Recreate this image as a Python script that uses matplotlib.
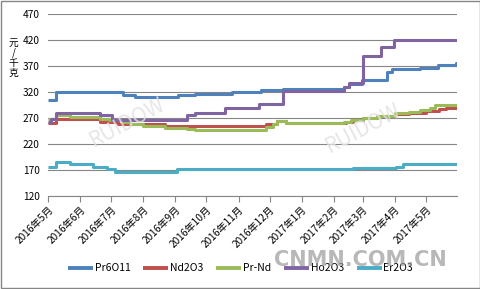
import matplotlib
matplotlib.use("Agg")
import matplotlib.pyplot as plt
import pandas as pd
import numpy as np

plt.rcParams['font.family'] = ['Noto Sans CJK SC', 'DejaVu Sans']

# change points (date, value) for each stepwise price series
pr6o11_dates = ["2016-05-01", "2016-05-09", "2016-07-12", "2016-07-24", "2016-09-04", "2016-09-20",
                "2016-10-26", "2016-11-23", "2016-12-14", "2017-02-11", "2017-02-16", "2017-02-28",
                "2017-03-24", "2017-03-29", "2017-04-25", "2017-05-13", "2017-05-30", "2017-05-31"]
pr6o11_vals = [305, 320, 315, 310, 314, 317, 320, 323, 325, 330, 335, 344, 359, 364, 367, 372, 375, 375]

nd2o3_dates = ["2016-05-01", "2016-05-09", "2016-06-20", "2016-07-08", "2016-08-22", "2016-11-28",
               "2016-12-08", "2016-12-17", "2017-02-13", "2017-02-20", "2017-03-01", "2017-03-15",
               "2017-04-01", "2017-04-15", "2017-05-01", "2017-05-14", "2017-05-20", "2017-05-31"]
nd2o3_vals = [260, 269, 263, 258, 254, 258, 264, 260, 263, 267, 270, 273, 277, 280, 283, 288, 290, 290]

prnd_dates = ["2016-05-01", "2016-05-09", "2016-05-22", "2016-06-20", "2016-06-30", "2016-07-12",
              "2016-07-19", "2016-08-01", "2016-08-22", "2016-09-12", "2016-09-20", "2016-11-28",
              "2016-12-04", "2016-12-08", "2016-12-17", "2017-02-11", "2017-02-18", "2017-03-01",
              "2017-03-15", "2017-04-01", "2017-04-15", "2017-04-25", "2017-05-05", "2017-05-10",
              "2017-05-31"]
prnd_vals = [268, 275, 271, 269, 266, 262, 258, 255, 251, 248, 246, 252, 258, 265, 260, 262, 267,
             270, 274, 279, 282, 286, 290, 295, 295]

ho2o3_dates = ["2016-05-01", "2016-05-04", "2016-05-09", "2016-06-20", "2016-07-02", "2016-09-12",
               "2016-09-20", "2016-10-19", "2016-11-21", "2016-12-14", "2017-02-11", "2017-02-16",
               "2017-03-01", "2017-03-19", "2017-03-31", "2017-05-31"]
ho2o3_vals = [262, 268, 279, 275, 267, 275, 279, 290, 297, 321, 330, 337, 390, 407, 420, 420]

er2o3_dates = ["2016-05-01", "2016-05-09", "2016-05-22", "2016-06-13", "2016-06-27", "2016-07-05",
               "2016-09-03", "2017-02-20", "2017-04-02", "2017-04-09", "2017-05-31"]
er2o3_vals = [175, 185, 181, 176, 171, 167, 172, 174, 176, 181, 181]

series_names = ["Pr6O11", "Nd2O3", "Pr-Nd", "Ho2O3", "Er2O3"]
colors = ["#4F81BD", "#C0504D", "#9BBB59", "#8064A2", "#4BACC6"]

month_ticks = pd.date_range("2016-05-01", "2017-05-01", freq="MS")
month_labels = [f"{d.year}年{d.month}月" for d in month_ticks]

fig = plt.figure(figsize=(4.81, 2.89), dpi=100)
ax = fig.add_axes([0.0998, 0.3218, 0.8503, 0.6298])

data = [(pr6o11_dates, pr6o11_vals), (nd2o3_dates, nd2o3_vals), (prnd_dates, prnd_vals),
        (ho2o3_dates, ho2o3_vals), (er2o3_dates, er2o3_vals)]
for (ds, vs), name, c in zip(data, series_names, colors):
    ax.plot(pd.to_datetime(ds), vs, drawstyle="steps-post", color=c, lw=2.2, label=name,
            solid_capstyle="butt", zorder=3)

ax.set_xlim(pd.Timestamp("2016-05-01"), pd.Timestamp("2017-05-31"))
ax.set_ylim(120, 470)
ax.set_yticks(np.arange(120, 471, 50))
ax.yaxis.grid(True, color="#868686", lw=0.8, zorder=0)
ax.set_axisbelow(True)
for s in ["top", "right", "left"]:
    ax.spines[s].set_visible(False)
ax.spines["bottom"].set_color("#868686")
ax.spines["bottom"].set_linewidth(0.8)
ax.set_xticks(month_ticks)
ax.set_xticklabels(month_labels, rotation=45, ha="right", rotation_mode="anchor")
ax.tick_params(axis="x", length=4, color="#868686", labelsize=7.3, pad=2)
ax.tick_params(axis="y", length=0, labelsize=7.3, pad=6)

fig.text(0.028, 0.80, "元\n/\n千\n克", fontsize=7, ha="center", va="center", linespacing=0.95)

# watermarks
fig.text(0.266, 0.575, "RUIDOW", fontsize=15, color="#e2e2e2", rotation=28, ha="center",
         va="center", zorder=10, alpha=0.85)
fig.text(0.755, 0.555, "RUIDOW", fontsize=15, color="#e2e2e2", rotation=28, ha="center",
         va="center", zorder=10, alpha=0.85)

leg = fig.legend(loc="center", bbox_to_anchor=(0.5, 0.072), ncol=5, frameon=False, fontsize=7.5,
                 handlelength=2.4, columnspacing=1.25, handletextpad=0.15)
for h in leg.legend_handles:
    h.set_linewidth(2.8)
fig.text(0.75, 0.1, "CNMN.COM.CN", fontsize=15, color="#9a9a9a", alpha=0.7, ha="center",
         va="center", fontweight="bold", family="DejaVu Sans", zorder=10)

fig.patches.append(plt.Rectangle((0.002, 0.003), 0.995, 0.994, transform=fig.transFigure,
                                 fill=False, edgecolor="#868686", lw=1))

fig.savefig("out.png", dpi=100)
